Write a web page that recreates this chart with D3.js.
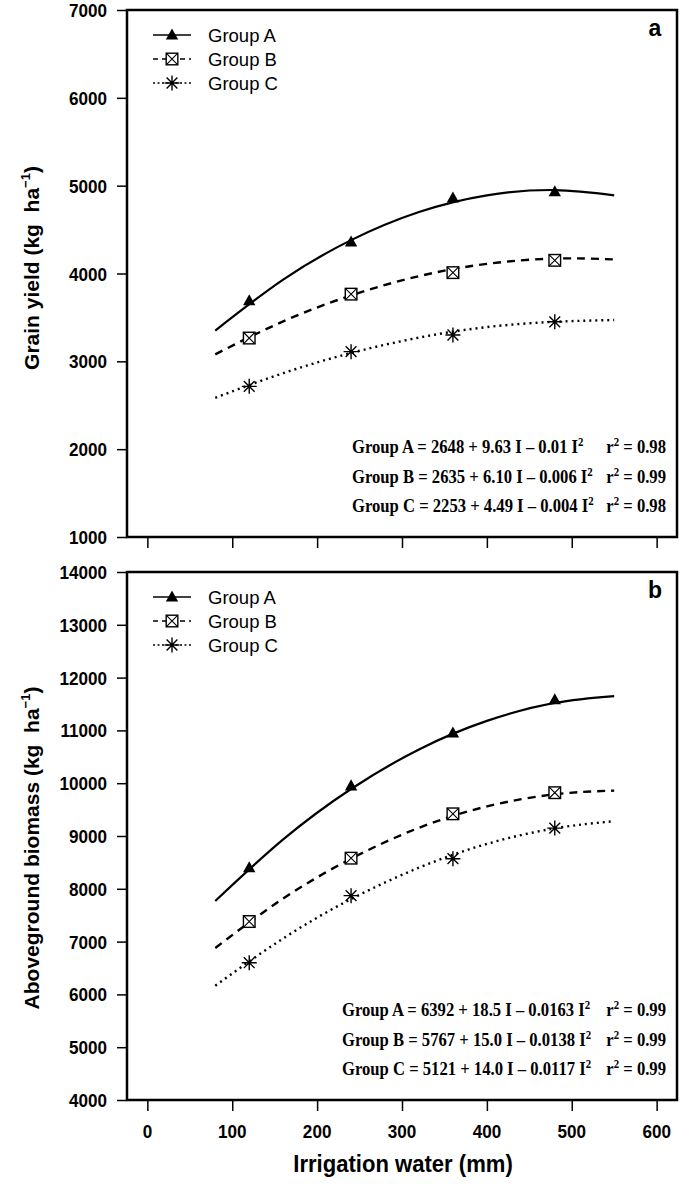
<!DOCTYPE html>
<html><head><meta charset="utf-8">
<script src="https://cdn.jsdelivr.net/npm/d3@7"></script>
<style>body{margin:0;background:#fff}</style>
</head><body><svg id="c" width="685" height="1184"></svg>
<script>
// ---------- data ----------
const groups = ["Group A", "Group B", "Group C"];
const irrigation = [120, 240, 360, 480];
const fitX = [80, 160, 240, 320, 400, 480, 550];

// panel a: grain yield (kg/ha)
const grainA = [3690, 4360, 4860, 4930];
const grainB = [3265, 3765, 4010, 4150];
const grainC = [2715, 3110, 3300, 3450];
const grainFitA = [3350, 3930, 4380, 4700, 4890, 4950, 4890];
const grainFitB = [3080, 3455, 3750, 3970, 4110, 4170, 4160];
const grainFitC = [2585, 2865, 3095, 3270, 3390, 3450, 3470];

// panel b: aboveground biomass (kg/ha)
const bioA = [8400, 9950, 10950, 11580];
const bioB = [7380, 8580, 9420, 9820];
const bioC = [6600, 7870, 8570, 9150];
const bioFitA = [7770, 8935, 9890, 10640, 11180, 11520, 11650];
const bioFitB = [6880, 7815, 8570, 9155, 9560, 9790, 9860];
const bioFitC = [6165, 7060, 7805, 8400, 8850, 9145, 9280];

const xTicks = [0, 100, 200, 300, 400, 500, 600];
const yTicksGrain = [1000, 2000, 3000, 4000, 5000, 6000, 7000];
const yTicksBio = [4000, 5000, 6000, 7000, 8000, 9000, 10000, 11000, 12000, 13000, 14000];

const grainEq = ["Group A = 2648 + 9.63 I – 0.01 I", "Group B = 2635 + 6.10 I – 0.006 I", "Group C = 2253 + 4.49 I – 0.004 I"];
const grainR2 = ["0.98", "0.99", "0.98"];
const bioEq = ["Group A = 6392 + 18.5 I – 0.0163 I", "Group B = 5767 + 15.0 I – 0.0138 I", "Group C = 5121 + 14.0 I – 0.0117 I"];
const bioR2 = ["0.99", "0.99", "0.99"];

// ---------- drawing ----------
const svg = d3.select("#c");
const SANS = "'Liberation Sans', Arial, sans-serif";
const SERIF = "'Liberation Serif', 'Times New Roman', serif";
const SX = 0.9; // horizontal squeeze of the original figure
const left = 127, right = 677;
const x = d3.scaleLinear().domain([-24, 624]).range([left, right]);
const dashes = [null, "8,6", "2,4"];

function marker(g, type, cx, cy) {
  if (type === 0) {
    const s = 6.5;
    g.append("path").attr("d", `M${cx},${cy - s}L${cx + s * 0.95},${cy + s * 0.7}L${cx - s * 0.95},${cy + s * 0.7}Z`).attr("fill", "#000");
  } else if (type === 1) {
    const s = 5.8;
    g.append("rect").attr("x", cx - s).attr("y", cy - s).attr("width", 2 * s).attr("height", 2 * s)
      .attr("fill", "#fff").attr("stroke", "#000").attr("stroke-width", 1.4);
    g.append("path").attr("d", `M${cx - s},${cy - s}L${cx + s},${cy + s}M${cx + s},${cy - s}L${cx - s},${cy + s}`)
      .attr("stroke", "#000").attr("stroke-width", 1.1);
  } else {
    const s = 7.5, d = s * 0.72;
    g.append("path").attr("d", `M${cx},${cy - s}V${cy + s}M${cx - s},${cy}H${cx + s}M${cx - d},${cy - d}L${cx + d},${cy + d}M${cx + d},${cy - d}L${cx - d},${cy + d}`)
      .attr("stroke", "#000").attr("stroke-width", 1.4);
  }
}

function sqText(g, tx, ty, anchor, sx) {
  return g.append("text").attr("transform", `translate(${tx},${ty}) scale(${sx === undefined ? SX : sx},1)`).attr("text-anchor", anchor);
}

function panel(cfg) {
  const g = svg.append("g");
  const y = d3.scaleLinear().domain(cfg.domain).range([cfg.bottom, cfg.top]);

  // fitted curves
  const line = d3.line().x((d, i) => x(fitX[i])).y(d => y(d)).curve(d3.curveNatural);
  cfg.fits.forEach((f, k) => {
    g.append("path").attr("d", line(f)).attr("fill", "none").attr("stroke", "#000")
      .attr("stroke-width", k === 0 ? 2.2 : 2.4).attr("stroke-dasharray", dashes[k]);
  });
  // observed points
  cfg.obs.forEach((o, k) => o.forEach((v, i) => marker(g, k, x(irrigation[i]), y(v))));

  // y axis
  const ya = g.append("g").attr("transform", `translate(${left},0)`)
    .call(d3.axisLeft(y).tickValues(cfg.yTicks).tickSize(10).tickFormat(""));
  ya.select(".domain").remove();
  ya.selectAll("line").attr("stroke-width", 1.5);
  cfg.yTicks.forEach(t => {
    sqText(g, 107, y(t) + 7, "end").text(t).attr("font-family", SANS).attr("font-weight", "bold").attr("font-size", 19);
  });
  // x axis ticks
  const xa = g.append("g").attr("transform", `translate(0,${cfg.bottom})`)
    .call(d3.axisBottom(x).tickValues(xTicks).tickSize(11).tickFormat(""));
  xa.select(".domain").remove();
  xa.selectAll("line").attr("stroke-width", 1.5);
  if (cfg.xLabels) {
    xTicks.forEach(t => sqText(g, x(t), cfg.bottom + 38, "middle").text(t)
      .attr("font-family", SANS).attr("font-weight", "bold").attr("font-size", 19));
    sqText(g, 403, cfg.bottom + 72, "middle", 0.92).text("Irrigation water (mm)")
      .attr("font-family", SANS).attr("font-weight", "bold").attr("font-size", 24);
  }
  // frame
  g.append("rect").attr("x", left).attr("y", cfg.top).attr("width", right - left).attr("height", cfg.bottom - cfg.top)
    .attr("fill", "none").attr("stroke", "#000").attr("stroke-width", 2.5);

  // y title
  const yt = g.append("text").attr("transform", `translate(${cfg.titleX},${cfg.titleY}) rotate(-90)`)
    .attr("text-anchor", "middle").attr("font-family", SANS).attr("font-weight", "bold").attr("font-size", 21);
  yt.append("tspan").text(cfg.yTitle + " (kg\u00a0\u00a0ha");
  yt.append("tspan").text("\u22121").attr("font-size", 13).attr("dy", -9);
  yt.append("tspan").text(")").attr("dy", 9);

  // legend
  groups.forEach((name, k) => {
    const ly = cfg.top + 25 + k * 24;
    g.append("line").attr("x1", 153).attr("x2", 191).attr("y1", ly).attr("y2", ly).attr("stroke", "#000")
      .attr("stroke-width", 1.3).attr("stroke-dasharray", k === 0 ? null : (k === 1 ? "5,4" : "2,2.5"));
    marker(g, k, 172, ly);
    sqText(g, 208, ly + 6.5, "start", 1).text(name).attr("font-family", SANS).attr("font-size", 18.5);
  });
  // panel letter
  g.append("text").attr("x", 655).attr("y", cfg.top + 26).attr("text-anchor", "middle")
    .attr("font-family", SANS).attr("font-weight", "bold").attr("font-size", 23).text(cfg.letter);

  // equations
  cfg.eqs.forEach((e, k) => {
    const ey = cfg.eqY + k * 29.5;
    const t = sqText(g, cfg.eqX, ey, "start").attr("font-family", SERIF).attr("font-weight", "bold").attr("font-size", 18.5);
    t.append("tspan").text(e);
    t.append("tspan").text("2").attr("font-size", 12).attr("dy", -7);
    const r = sqText(g, 666, ey, "end").attr("font-family", SERIF).attr("font-weight", "bold").attr("font-size", 18.5);
    r.append("tspan").text("r");
    r.append("tspan").text("2").attr("font-size", 12).attr("dy", -7);
    r.append("tspan").text(" = " + cfg.r2[k]).attr("dy", 7);
  });
}

panel({top: 10, bottom: 537, domain: [1000, 7000], yTicks: yTicksGrain,
  fits: [grainFitA, grainFitB, grainFitC], obs: [grainA, grainB, grainC],
  yTitle: "Grain yield", titleX: 39, titleY: 268, letter: "a",
  eqs: grainEq, r2: grainR2, eqX: 352, eqY: 453, xLabels: false});

panel({top: 572, bottom: 1100, domain: [4000, 14000], yTicks: yTicksBio,
  fits: [bioFitA, bioFitB, bioFitC], obs: [bioA, bioB, bioC],
  yTitle: "Aboveground biomass", titleX: 39, titleY: 848, letter: "b",
  eqs: bioEq, r2: bioR2, eqX: 342, eqY: 1016, xLabels: true});
</script></body></html>
